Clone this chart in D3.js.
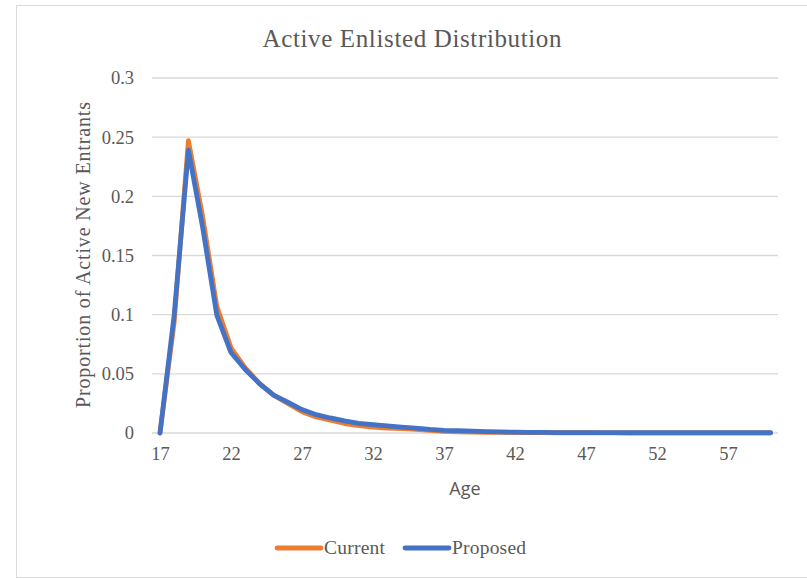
<!DOCTYPE html>
<html>
<head>
<meta charset="utf-8">
<script src="https://cdn.jsdelivr.net/npm/d3@7"></script>
<style>
  html, body { margin: 0; padding: 0; background: #fff; }
  svg { display: block; }
</style>
</head>
<body>
<svg id="chart" width="807" height="579"></svg>
<script>
// Ages of new entrants
const ages = d3.range(17, 61);

// Proportion of active new entrants by age
const current = [
  0.000, 0.094, 0.247, 0.183, 0.107, 0.072, 0.055, 0.042, 0.032, 0.025,
  0.018, 0.0136, 0.0108, 0.0080, 0.0062, 0.0050, 0.0042, 0.0037, 0.0030, 0.0022,
  0.0013, 0.0010, 0.0008, 0.0006, 0.0005, 0.0004, 0.0003, 0.0003, 0.0002, 0.0002,
  0.0002, 0.0001, 0.0001, 0.0001, 0.0001, 0.0001, 0.0001, 0.0001, 0.0001, 0.0001,
  0.0001, 0.0001, 0.0001, 0.0001
];
const proposed = [
  0.000, 0.100, 0.239, 0.174, 0.0996, 0.068, 0.0536, 0.0418, 0.032, 0.026,
  0.0198, 0.0155, 0.0127, 0.0102, 0.0082, 0.0071, 0.0060, 0.0050, 0.0042, 0.0031,
  0.0023, 0.0020, 0.0016, 0.0012, 0.0009, 0.0007, 0.0006, 0.0005, 0.0004, 0.0004,
  0.0003, 0.0003, 0.0003, 0.0002, 0.0002, 0.0002, 0.0002, 0.0002, 0.0002, 0.0002,
  0.0002, 0.0002, 0.0002, 0.0002
];

const yTicks = [0, 0.05, 0.1, 0.15, 0.2, 0.25, 0.3];
const yTickLabels = ["0", "0.05", "0.1", "0.15", "0.2", "0.25", "0.3"];
const xTicks = [17, 22, 27, 32, 37, 42, 47, 52, 57];

const seriesNames = ["Current", "Proposed"];
const seriesColors = ["#ED7D31", "#4472C4"];

const svg = d3.select("#chart");
const serif = "'Liberation Serif', 'Times New Roman', serif";
const sans = "'Open Sans', 'Liberation Sans', sans-serif";
const textColor = "#595959";

// Chart frame
svg.append("rect")
  .attr("x", 16.5).attr("y", 5.5)
  .attr("width", 800).attr("height", 572)
  .attr("fill", "#fff")
  .attr("stroke", "#d9d9d9").attr("stroke-width", 1);

const plot = { left: 152, right: 778, top: 78, bottom: 433 };

const x = d3.scaleLinear().domain([17, 61.5]).range([160, 160 + 44.5 * 14.2]);
const y = d3.scaleLinear().domain([0, 0.3]).range([plot.bottom, plot.top]);

// Horizontal gridlines
svg.append("g")
  .selectAll("line")
  .data(yTicks)
  .join("line")
  .attr("x1", plot.left).attr("x2", plot.right)
  .attr("y1", d => y(d)).attr("y2", d => y(d))
  .attr("stroke", "#d9d9d9").attr("stroke-width", 1.3);

// Y axis labels
const yAxis = d3.axisLeft(y)
  .tickValues(yTicks)
  .tickFormat((d, i) => yTickLabels[i])
  .tickSize(0).tickPadding(0);
svg.append("g")
  .attr("transform", `translate(${plot.left - 18},0)`)
  .call(yAxis)
  .call(g => g.select(".domain").remove())
  .call(g => g.selectAll("text")
    .attr("font-family", serif).attr("font-size", 18.5)
    .attr("fill", textColor));

// X axis labels
const xAxis = d3.axisBottom(x)
  .tickValues(xTicks)
  .tickFormat(d3.format("d"))
  .tickSize(0).tickPadding(0);
svg.append("g")
  .attr("transform", `translate(0,${plot.bottom + 14})`)
  .call(xAxis)
  .call(g => g.select(".domain").remove())
  .call(g => g.selectAll("text")
    .attr("font-family", serif).attr("font-size", 18.5)
    .attr("fill", textColor));

// Series lines
const line = d3.line()
  .x((d, i) => x(ages[i]))
  .y(d => y(d));

[current, proposed].forEach((vals, k) => {
  svg.append("path")
    .datum(vals)
    .attr("d", line)
    .attr("fill", "none")
    .attr("stroke", seriesColors[k])
    .attr("stroke-width", 4.8)
    .attr("stroke-linejoin", "round")
    .attr("stroke-linecap", "round");
});

// Title
svg.append("text")
  .attr("x", 412).attr("y", 47)
  .attr("text-anchor", "middle")
  .attr("font-family", serif).attr("font-size", 25)
  .attr("textLength", 299).attr("lengthAdjust", "spacing")
  .attr("fill", textColor)
  .text("Active Enlisted Distribution");

// Axis titles
svg.append("text")
  .attr("transform", "translate(90,255) rotate(-90)")
  .attr("text-anchor", "middle")
  .attr("font-family", serif).attr("font-size", 20)
  .attr("textLength", 306).attr("lengthAdjust", "spacing")
  .attr("fill", textColor)
  .text("Proportion of Active New Entrants");

svg.append("text")
  .attr("x", 465).attr("y", 495)
  .attr("text-anchor", "middle")
  .attr("font-family", sans).attr("font-size", 18)
  .attr("fill", textColor)
  .text("Age");

// Legend
const legendItems = [{ x: 277, tx: 324, w: 61 }, { x: 405, tx: 452, w: 74 }];
legendItems.forEach((it, k) => {
  svg.append("line")
    .attr("x1", it.x).attr("x2", it.x + 44)
    .attr("y1", 548).attr("y2", 548)
    .attr("stroke", seriesColors[k]).attr("stroke-width", 4.8)
    .attr("stroke-linecap", "round");
  svg.append("text")
    .attr("x", it.tx).attr("y", 554)
    .attr("font-family", serif).attr("font-size", 19.5)
    .attr("textLength", it.w).attr("lengthAdjust", "spacing")
    .attr("fill", textColor)
    .text(seriesNames[k]);
});
</script>
</body>
</html>
